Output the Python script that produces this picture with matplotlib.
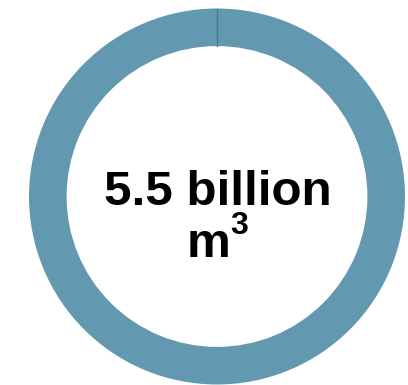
import numpy as np
import matplotlib
matplotlib.use('Agg')
import matplotlib.pyplot as plt

# объём и подписи
values = [5.5]
label_top = '5.5 billion'
label_unit = 'm'
label_power = '3'

ring_color = '#6299b0'
seam_color = '#4a7a8f'

fig = plt.figure(figsize=(4.08, 3.85), dpi=100)
ax = fig.add_axes([29 / 408, 0.5 / 385, 376 / 408, 376 / 385])

wedges, _ = ax.pie(values, radius=1, startangle=90, counterclock=False,
                   colors=[ring_color],
                   wedgeprops=dict(width=0.2, edgecolor='none'))

# шов кольца в начале сектора
w = wedges[0]
ang = np.deg2rad(90)
r_in = w.r - w.width
ax.plot([r_in * np.cos(ang), w.r * np.cos(ang)],
        [r_in * np.sin(ang), w.r * np.sin(ang)],
        color=seam_color, lw=1)

ax.set_xlim(-1, 1)
ax.set_ylim(-1, 1)
ax.axis('off')

font = dict(family='Liberation Sans', weight='bold', color='black')
ax.text(0.005, -0.045, label_top, ha='center', va='baseline', size=35.5, **font)
ax.text(-0.16, -0.322, label_unit, ha='left', va='baseline', size=35.5, **font)
ax.text(0.072, -0.2, label_power, ha='left', va='baseline', size=23, **font)

fig.savefig('out.png', dpi=100)
